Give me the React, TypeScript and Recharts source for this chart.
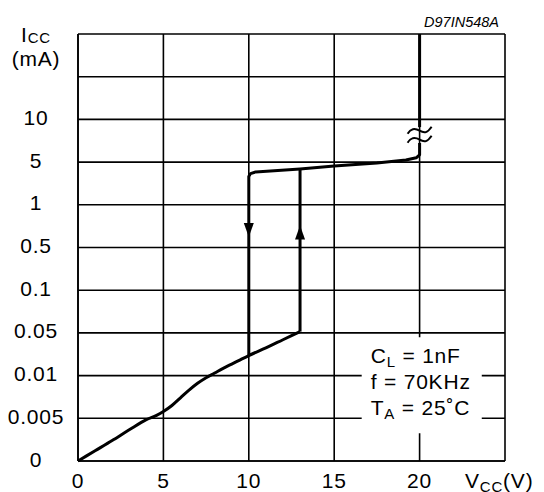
import React from "react";
import {
  ComposedChart, Line, Scatter, XAxis, YAxis, CartesianGrid, ReferenceArea
} from "recharts";

const FONT = "'Liberation Sans', Arial, Helvetica, sans-serif";

// axes: x in volts, y is the index of the (non-uniform) current scale
const xTicks = [0, 5, 10, 15, 20, 25];
const xTickLabels = ["0", "5", "10", "15", "20", ""];
const yTicks = [0, 1, 2, 3, 4, 5, 6, 7, 8, 9, 10];
const yTickLabels = ["0", "0.005", "0.01", "0.05", "0.1", "0.5", "1", "5", "10", "", ""];

// start-up branch, up to the turn-on threshold
const startupCurve = [
  { v: 0, i: 0 }, { v: 1, i: 0.24 }, { v: 2, i: 0.48 }, { v: 3, i: 0.73 },
  { v: 4, i: 0.97 }, { v: 4.6, i: 1.07 }, { v: 5, i: 1.16 }, { v: 5.5, i: 1.3 },
  { v: 6, i: 1.48 }, { v: 6.5, i: 1.66 }, { v: 7, i: 1.82 }, { v: 7.5, i: 1.95 },
  { v: 8, i: 2.06 }, { v: 8.5, i: 2.17 }, { v: 9, i: 2.27 }, { v: 9.5, i: 2.37 },
  { v: 10, i: 2.47 }, { v: 11, i: 2.65 }, { v: 12, i: 2.84 }, { v: 13, i: 3.03 },
];
const turnOn = [{ v: 13, i: 3.03 }, { v: 13, i: 6.85 }];
// operating branch + turn-off drop at 10V
const operating = [
  { v: 10, i: 2.47 }, { v: 10, i: 6.66 }, { v: 10.1, i: 6.73 }, { v: 10.4, i: 6.77 },
  { v: 13, i: 6.84 }, { v: 15, i: 6.91 }, { v: 17.5, i: 6.98 }, { v: 19.2, i: 7.05 },
  { v: 19.8, i: 7.1 }, { v: 20, i: 7.17 }, { v: 20, i: 7.45 },
];
const zenerClamp = [{ v: 20, i: 7.82 }, { v: 20, i: 10 }];
const arrowDown = [{ v: 10, i: 5.41 }];
const arrowUp = [{ v: 13, i: 5.35 }];
const breakMark = [{ v: 20, i: 7.63 }];

const noteBox = { x1: 16.61, x2: 23.64, y1: 0.65, y2: 2.9 };
const notes = [
  { sym: "C", sub: "L", rest: " = 1nF" },
  { sym: "f", sub: "", rest: " = 70KHz" },
  { sym: "T", sub: "A", rest: " = 25˚C" },
];

const txt = { fontFamily: FONT, fontSize: 21, fill: "#000", letterSpacing: 0.8 };

const XTick = (props: any) => {
  const { x, payload } = props;
  return (
    <text x={x} y={488} textAnchor="middle" {...txt}>
      {xTickLabels[xTicks.indexOf(payload.value)]}
    </text>
  );
};

const YTick = (props: any) => {
  const { y, payload } = props;
  return (
    <text x={36} y={y + 5.5} textAnchor="middle" {...txt}>
      {yTickLabels[yTicks.indexOf(payload.value)]}
    </text>
  );
};

const DownHead = (p: any) => (
  <path d={`M${p.cx - 5},${p.cy - 7} L${p.cx + 5},${p.cy - 7} L${p.cx},${p.cy + 7} Z`} fill="#000" />
);
const UpHead = (p: any) => (
  <path d={`M${p.cx - 5},${p.cy + 7} L${p.cx + 5},${p.cy + 7} L${p.cx},${p.cy - 7} Z`} fill="#000" />
);
const BreakSign = (p: any) => {
  const tilde = (dy: number) =>
    `M${p.cx - 12},${p.cy + dy + 3} C${p.cx - 9},${p.cy + dy - 2} ${p.cx - 5},${p.cy + dy - 3} ${p.cx},${p.cy + dy} S${p.cx + 8},${p.cy + dy + 2} ${p.cx + 12},${p.cy + dy - 4}`;
  return (
    <g fill="none" stroke="#000" strokeWidth={2}>
      <path d={tilde(-4.5)} />
      <path d={tilde(4.5)} />
    </g>
  );
};

const NoteText = (props: any) => {
  const { x, y } = props.viewBox;
  return (
    <g>
      {notes.map((n, k) => (
        <text key={k} x={x + 9} y={y + 26 + k * 25.8} {...txt}>
          {n.sym}
          {n.sub ? <tspan fontSize={15} dy={4}>{n.sub}</tspan> : null}
          <tspan dy={n.sub ? -4 : 0}>{n.rest}</tspan>
        </text>
      ))}
    </g>
  );
};

const lineProps = {
  stroke: "#000", strokeWidth: 3, dot: false, activeDot: false,
  isAnimationActive: false, type: "linear" as const, strokeLinejoin: "round" as const,
};

export default function App() {
  return (
    <div style={{ position: "absolute", left: 0, top: 0, width: 544, height: 492, background: "#fff" }}>
      <ComposedChart width={544} height={492} margin={{ top: 34, right: 39, bottom: 0, left: 0 }}>
        <CartesianGrid stroke="#000" strokeWidth={1.6} />
        <XAxis
          type="number" dataKey="v" domain={[0, 25]} ticks={xTicks} interval={0}
          height={31} tick={<XTick />} tickLine={false} axisLine={{ stroke: "#000", strokeWidth: 1.6 }}
        />
        <YAxis
          type="number" dataKey="i" domain={[0, 10]} ticks={yTicks} interval={0}
          width={78} tick={<YTick />} tickLine={false} axisLine={{ stroke: "#000", strokeWidth: 1.6 }}
        />
        <ReferenceArea
          x1={noteBox.x1} x2={noteBox.x2} y1={noteBox.y1} y2={noteBox.y2}
          fill="#fff" fillOpacity={1} stroke="none" label={<NoteText />}
        />
        <Line data={startupCurve} dataKey="i" {...lineProps} type="monotone" />
        <Line data={turnOn} dataKey="i" {...lineProps} />
        <Line data={operating} dataKey="i" {...lineProps} />
        <Line data={zenerClamp} dataKey="i" {...lineProps} />
        <Scatter data={arrowDown} dataKey="i" shape={<DownHead />} isAnimationActive={false} />
        <Scatter data={arrowUp} dataKey="i" shape={<UpHead />} isAnimationActive={false} />
        <Scatter data={breakMark} dataKey="i" shape={<BreakSign />} isAnimationActive={false} />
        <text x={499} y={26.5} textAnchor="end" fontFamily={FONT} fontSize={14.5} fontStyle="italic" fill="#000">
          D97IN548A
        </text>
        <text x={36} y={42} textAnchor="middle" {...txt}>
          I<tspan fontSize={15} dy={1}>CC</tspan>
        </text>
        <text x={36} y={65.5} textAnchor="middle" {...txt}>(mA)</text>
        <text x={465} y={488} {...txt}>
          V<tspan fontSize={15} dy={4}>CC</tspan><tspan dy={-4}>(V)</tspan>
        </text>
      </ComposedChart>
    </div>
  );
}
